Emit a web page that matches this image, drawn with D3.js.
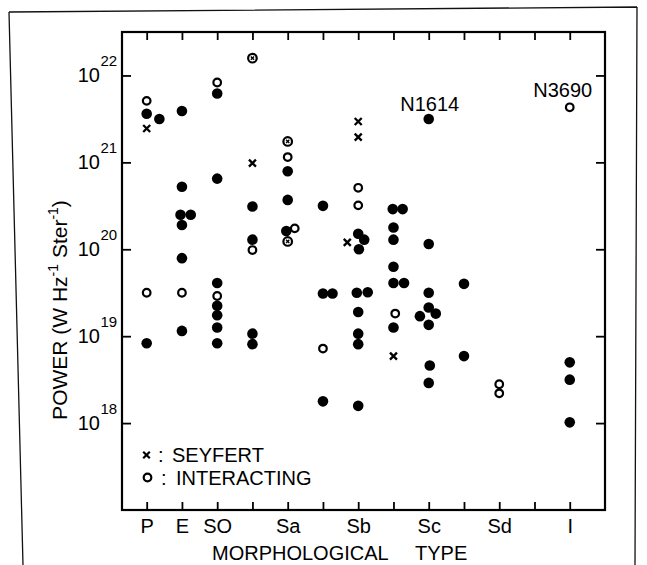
<!DOCTYPE html>
<html><head><meta charset="utf-8">
<script src="https://cdn.jsdelivr.net/npm/d3@7"></script>
<style>
html,body{margin:0;padding:0;background:#fff;}
svg{display:block;font-family:"Liberation Sans",Arial,sans-serif;}
</style></head>
<body>
<svg id="chart" width="647" height="565"></svg>
<script>
// Morphological type ticks (index 0..12)
const typeLabels = ["P","E","SO","","Sa","","Sb","","Sc","","Sd","","I"];
const powerExponents = [18,19,20,21,22];

// Normal galaxies (filled circles): type position, power (W Hz^-1 Ster^-1)
const normalType  = [0,0.36,0, 1,1,0.96,1.25,1,1,1, 2,2,2,2,2,2,2, 3,3,3,3, 4,4,3.96,
  5,5,5.27,5, 6,6.17,6.02,5.96,6.27,6,6,6,6, 6.98,7.26,7,7,7,7,7.3,7,
  8,8,8,8,7.75,8.2,8,8.03,8, 9,9, 12,12,12];
const normalPower = [3.63e21,3.16e21,8.3e18, 3.9e21,5.25e20,2.5e20,2.5e20,1.9e20,7.9e19,1.15e19,
  6.2e21,6.5e20,4.1e19,2.24e19,1.74e19,1.26e19,8.3e18, 3.1e20,1.29e20,1.07e19,8.1e18,
  7.9e20,3.7e20,1.62e20, 3.16e20,3.1e19,3.1e19,1.78e18,
  1.51e20,1.29e20,1.0e20,3.16e19,3.2e19,1.9e19,1.07e19,8.1e18,1.58e18,
  2.9e20,2.9e20,1.78e20,1.29e20,6.3e19,4.1e19,4.1e19,1.26e19,
  3.16e21,1.15e20,3.16e19,2.14e19,1.7e19,1.82e19,1.35e19,4.6e18,2.9e18,
  4.0e19,5.9e18, 5.0e18,3.16e18,1.02e18];

// Interacting galaxies (open circles)
const interactingType  = [0,0,1,2,2,3,4,4.2,5,6,6,7.05,10,10,12];
const interactingPower = [5.1e21,3.16e19,3.16e19,8.3e21,2.9e19,9.8e19,1.15e21,1.74e20,7.2e18,
  5.1e20,3.2e20,1.82e19,2.8e18,2.2e18,4.3e21];

// Seyfert galaxies (x)
const seyfertType  = [0,3,6,6,5.69,7];
const seyfertPower = [2.45e21,9.8e20,2.95e21,1.95e21,1.2e20,5.9e18];

// Interacting Seyferts (circle with x)
const bothType  = [3,4,4];
const bothPower = [1.58e22,1.74e21,1.23e20];

// Named galaxies
const namedLabels = ["N1614","N3690"];
const namedType   = [8,12];
const namedPower  = [3.16e21,4.3e21];

const svg = d3.select("#chart");
const L=122, R=605, T=32, B=510;
const x = d3.scaleLinear().domain([-0.7,13]).range([L,R]);
const y = d3.scaleLog().domain([1e17, Math.pow(10,22.5)]).range([B,T]);

// outer scan border
svg.append("path")
  .attr("d","M9,12 L637,7 M9,12 L23,565 M637,7 L635,565")
  .attr("fill","none").attr("stroke","#111").attr("stroke-width",1.3);

// axes
const tickVals = d3.range(13);
const fmtBottom = (d)=>typeLabels[d];
const gB = svg.append("g").attr("transform",`translate(0,${B})`)
  .call(d3.axisBottom(x).tickValues(tickVals).tickSize(-8).tickPadding(9).tickFormat(fmtBottom));
const gT = svg.append("g").attr("transform",`translate(0,${T})`)
  .call(d3.axisTop(x).tickValues(tickVals).tickSize(-8).tickFormat(""));
const yTicks = powerExponents.map(e=>Math.pow(10,e));
const gL = svg.append("g").attr("transform",`translate(${L},0)`)
  .call(d3.axisLeft(y).tickValues(yTicks).tickSize(-9).tickFormat(""));
const gR = svg.append("g").attr("transform",`translate(${R},0)`)
  .call(d3.axisRight(y).tickValues(yTicks).tickSize(-9).tickFormat(""));
[gB,gT,gL,gR].forEach(g=>{
  g.select(".domain").remove();
  g.selectAll(".tick line").attr("stroke","#000").attr("stroke-width",1.8);
});
gB.selectAll(".tick text").attr("font-size",20).attr("fill","#000")
  .attr("font-family","Liberation Sans, Arial, sans-serif");

svg.append("rect").attr("x",L).attr("y",T).attr("width",R-L).attr("height",B-T)
  .attr("fill","none").attr("stroke","#000").attr("stroke-width",2.2);

// y tick labels 10^n
powerExponents.forEach(e=>{
  const yy = y(Math.pow(10,e));
  svg.append("text").attr("x",100).attr("y",yy+7).attr("text-anchor","end")
    .attr("font-size",20).text("10");
  svg.append("text").attr("x",100.5).attr("y",yy-9).attr("text-anchor","start")
    .attr("font-size",15).text(e);
});

// y title
const yt = svg.append("text").attr("transform","translate(67,310) rotate(-90)")
  .attr("text-anchor","middle").attr("font-size",21);
yt.append("tspan").text("POWER (W Hz");
yt.append("tspan").attr("font-size",14).attr("dy",-9).text("-1");
yt.append("tspan").attr("dy",9).text(" Ster");
yt.append("tspan").attr("font-size",14).attr("dy",-9).text("-1");
yt.append("tspan").attr("dy",9).text(")");

// x title
const xt = svg.append("text").attr("y",559.5).attr("font-size",20);
xt.append("tspan").attr("x",212).text("MORPHOLOGICAL");
xt.append("tspan").attr("x",415).text("TYPE");

// marks
const xPath = (cx,cy,s)=>`M${cx-s},${cy-s}L${cx+s},${cy+s}M${cx-s},${cy+s}L${cx+s},${cy-s}`;

svg.append("g").selectAll("circle").data(d3.zip(normalType,normalPower)).join("circle")
  .attr("cx",d=>x(d[0])).attr("cy",d=>y(d[1])).attr("r",5.3).attr("fill","#000");

svg.append("g").selectAll("circle").data(d3.zip(interactingType,interactingPower)).join("circle")
  .attr("cx",d=>x(d[0])).attr("cy",d=>y(d[1])).attr("r",3.8)
  .attr("fill","#fff").attr("stroke","#000").attr("stroke-width",2.2);

svg.append("g").selectAll("path").data(d3.zip(seyfertType,seyfertPower)).join("path")
  .attr("d",d=>xPath(x(d[0]),y(d[1]),3.5))
  .attr("stroke","#000").attr("stroke-width",2.3).attr("fill","none");

const gBoth = svg.append("g").selectAll("g").data(d3.zip(bothType,bothPower)).join("g");
gBoth.append("circle").attr("cx",d=>x(d[0])).attr("cy",d=>y(d[1])).attr("r",4.3)
  .attr("fill","#fff").attr("stroke","#000").attr("stroke-width",2.2);
gBoth.append("path").attr("d",d=>xPath(x(d[0]),y(d[1]),1.6))
  .attr("stroke","#000").attr("stroke-width",1.4);

// named galaxy labels
svg.append("g").selectAll("text").data(d3.range(namedLabels.length)).join("text")
  .attr("x",i=>x(namedType[i])+(i===0?1:-7)).attr("y",i=>y(namedPower[i])-(i===0?8:10))
  .attr("text-anchor","middle").attr("font-size",20).text(i=>namedLabels[i]);

// legend
svg.append("path").attr("d",xPath(146.5,455,3.3)).attr("stroke","#000").attr("stroke-width",2.2);
svg.append("text").attr("x",158).attr("y",462).attr("font-size",20).text(":");
svg.append("text").attr("x",172).attr("y",462).attr("font-size",20).text("SEYFERT");
svg.append("circle").attr("cx",147.5).attr("cy",477.5).attr("r",3.8)
  .attr("fill","#fff").attr("stroke","#000").attr("stroke-width",2.2);
svg.append("text").attr("x",161).attr("y",485).attr("font-size",20).text(":");
svg.append("text").attr("x",176).attr("y",485).attr("font-size",20).text("INTERACTING");
</script>
</body></html>
